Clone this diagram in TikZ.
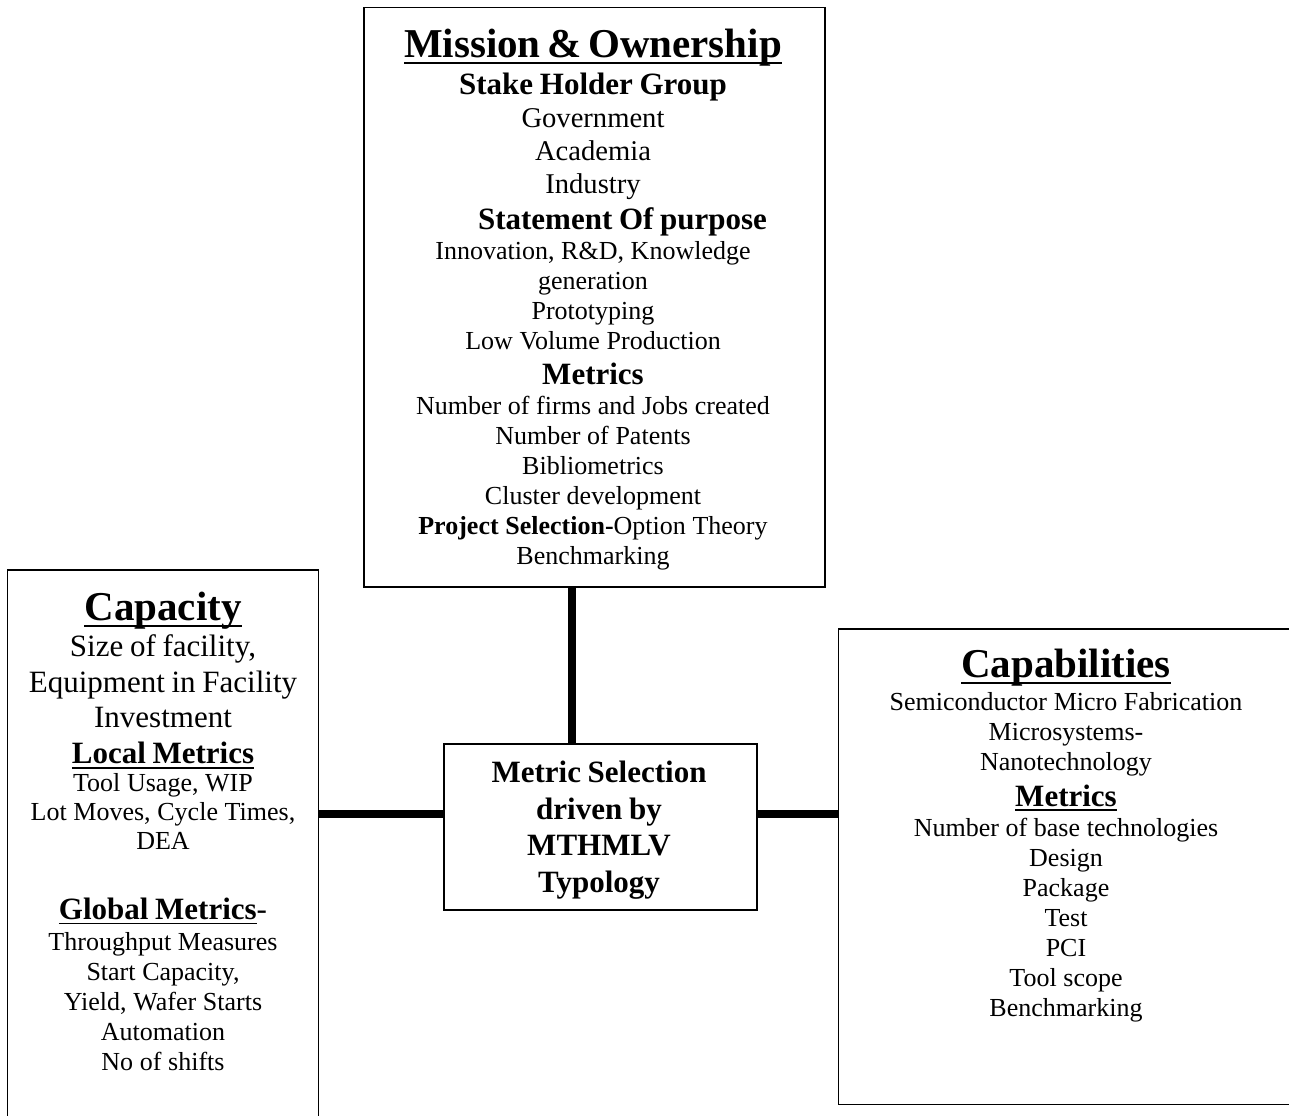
\documentclass[tikz,border=0pt]{standalone}
\usepackage{fontspec}
\setmainfont{Liberation Serif}

% letter sizes, each with the line distance above it
\newcommand\headfnt{\fontsize{20.5}{23.6}\selectfont\bfseries}
\newcommand\subfnt{\fontsize{15.5}{17.84}\selectfont\bfseries}
\newcommand\bodyfnt{\fontsize{15.5}{17.84}\selectfont\mdseries}
\newcommand\midfnt{\fontsize{14.3}{16.45}\selectfont\mdseries}
\newcommand\smfnt{\fontsize{13}{15}\selectfont\mdseries}

% heavier underline
\newsavebox\hdbox
\newcommand\hdline[1]{\leavevmode\sbox\hdbox{#1}\rlap{\rule[-0.16em]{\wd\hdbox}{0.05em}}\usebox\hdbox}

\begin{document}
\begin{tikzpicture}[x=0.5pt, y=-0.5pt,
  box/.style={draw, line width=0.9pt, inner sep=0pt},
  txt/.style={anchor=north, inner sep=0pt, align=center},
  link/.style={line width=4pt}]

  \useasboundingbox (0,0) rectangle (1289,1115);
  \clip (0,0) rectangle (1289,1115);

  % Mission & Ownership
  \node[box, minimum width=230.5pt, minimum height=289.75pt] (mission) at (594.5,297.25) {};
  \node[txt, text width=225pt] (missiontxt) at (593,28.3) {\headfnt\hdline{Mission \& Ownership}\\[1pt]
    \subfnt Stake Holder Group\\
    \midfnt Government\\ Academia\\ Industry\\
    \subfnt\hspace*{29.5pt}Statement Of purpose\\
    \smfnt Innovation, R\&D, Knowledge\hspace*{5pt}\\ generation\\ Prototyping\\ Low Volume Production\\
    \subfnt Metrics\\
    \smfnt Number of firms and Jobs created\\ Number of Patents\\ Bibliometrics\\ Cluster development\\
    \textbf{Project Selection-}Option Theory\\ Benchmarking\par};

  % Capacity
  \node[box, minimum width=155.5pt, minimum height=280pt] (capacity) at (163,850) {};
  \node[txt, text width=152pt] (capacitytxt) at (163,592) {\headfnt\hdline{Capacity}\\
    \bodyfnt Size of facility,\\ Equipment in Facility\\ Investment\\
    \subfnt\hdline{Local Metrics}\\[-0.5pt]
    \smfnt\baselineskip=14.5pt Tool Usage, WIP\\ Lot Moves, Cycle Times,\\ DEA\\[17pt]
    \subfnt\hdline{Global Metrics}{\mdseries-}\\[0.5pt]
    \smfnt Throughput Measures\\ Start Capacity,\\ Yield, Wafer Starts\\ Automation\\ No of shifts\par};

  % Capabilities
  \node[box, minimum width=228.25pt, minimum height=237.75pt] (capab) at (1066.75,866.75) {};
  \node[txt, text width=215pt] (capabtxt) at (1066,648.5) {\headfnt\hdline{Capabilities}\\[1.5pt]
    \smfnt Semiconductor Micro Fabrication\\ Microsystems-\\ Nanotechnology\\
    \subfnt\hdline{Metrics}\\
    \smfnt Number of base technologies\\ Design\\ Package\\ Test\\ PCI\\ Tool scope\\ Benchmarking\par};

  % Metric selection
  \node[box, minimum width=156.5pt, minimum height=83pt] (select) at (600.5,827) {};
  \node[txt, text width=150pt] (selecttxt) at (599,761) {\fontsize{15.5}{18.2}\selectfont\bfseries
    Metric Selection\\ driven by\\ MTHMLV\\ Typology\par};

  % verbindingen
  \coordinate (hub) at (572,814);
  \draw[link] (mission.south -| hub) -- (select.north -| hub);
  \draw[link] (capacity.east |- hub) -- (select.west |- hub);
  \draw[link] (select.east |- hub) -- (capab.west |- hub);

\end{tikzpicture}
\end{document}
